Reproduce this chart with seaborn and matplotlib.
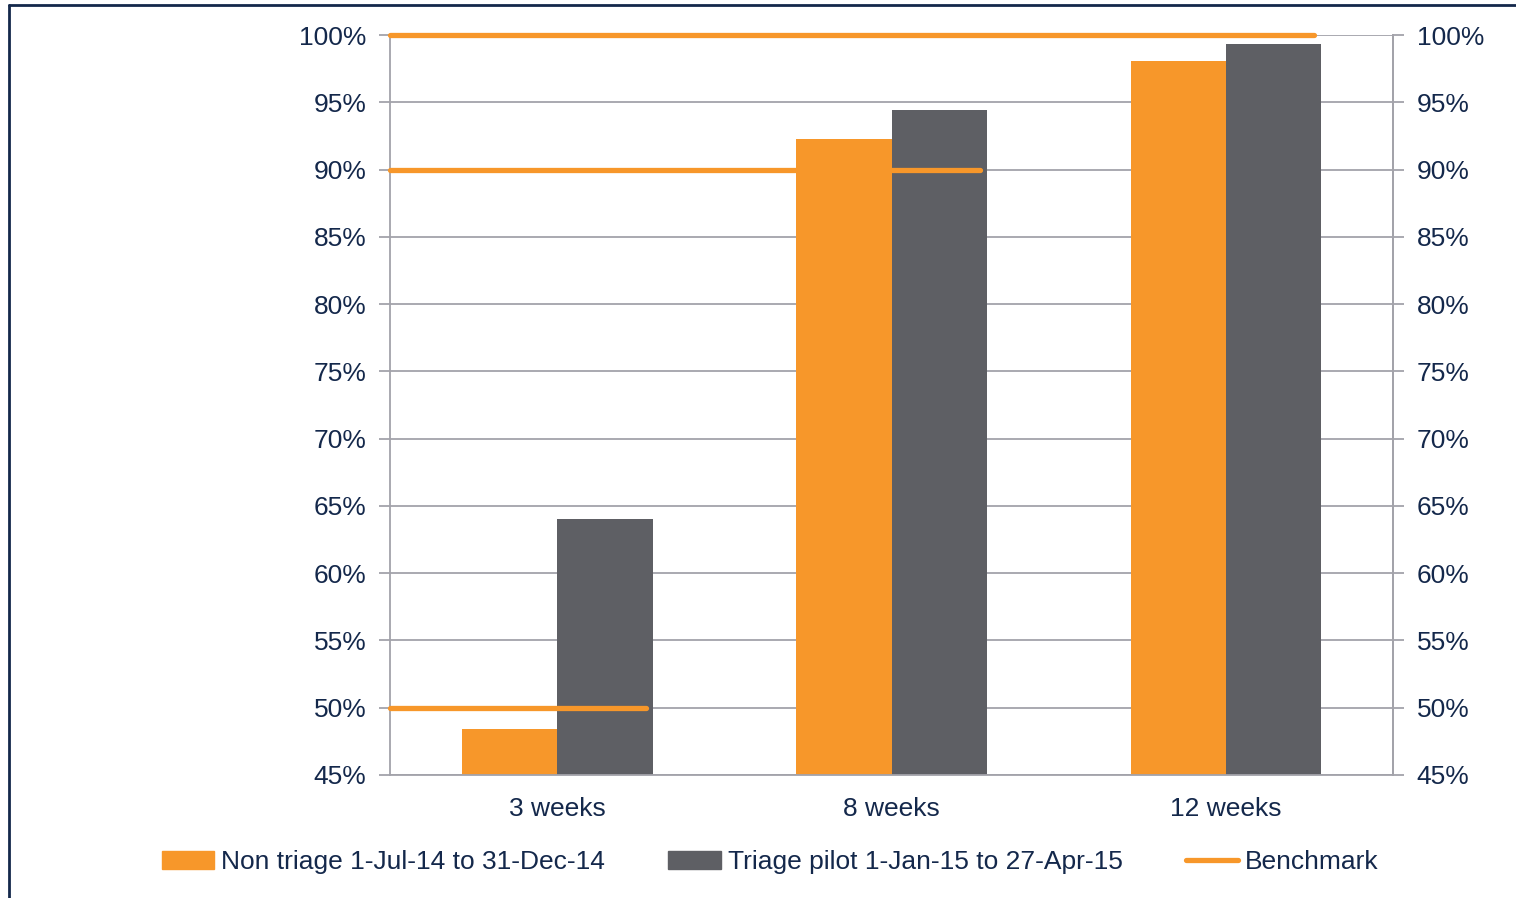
import pandas as pd
import numpy as np
import matplotlib.pyplot as plt
import seaborn as sns
from matplotlib.lines import Line2D
from matplotlib.patches import Patch
from matplotlib.ticker import PercentFormatter

# Data
categories = ['3 weeks', '8 weeks', '12 weeks']
non_triage = [48.4, 92.3, 98.1]
triage_pilot = [64.0, 94.4, 99.3]
benchmark = [50, 90, 100]

series_names = ['Non triage 1-Jul-14 to 31-Dec-14',
                'Triage pilot 1-Jan-15 to 27-Apr-15']

orange = '#f7972a'
grey = '#5e5f64'
navy = '#14284b'
gridc = '#a3a3aa'
fs = 19

df = pd.DataFrame({
    'Period': categories * 2,
    'Series': [series_names[0]] * 3 + [series_names[1]] * 3,
    'Rate': non_triage + triage_pilot,
})

sns.set_style('white')
plt.rcParams['font.family'] = ['Liberation Sans', 'DejaVu Sans']

fig = plt.figure(figsize=(15.16, 8.98), dpi=100)
ax = fig.add_axes([0.2573, 0.137, 0.6616, 0.824])

sns.barplot(data=df, x='Period', y='Rate', hue='Series',
            palette=[orange, grey], width=0.57, saturation=1,
            linewidth=0, ax=ax, legend=False, zorder=2)

# Benchmark segments start at the left edge and stop just past each group
for i, b in enumerate(benchmark):
    ax.hlines(b, -0.5, i + 0.265, color=orange, linewidth=3.8,
              capstyle='round', zorder=3, clip_on=False)

ax.set_xlim(-0.5, 2.5)
ax.set_ylim(45, 100)
ax.set_yticks(np.arange(45, 101, 5))
ax.yaxis.set_major_formatter(PercentFormatter(decimals=0))
ax.set_xlabel('')
ax.set_ylabel('')
ax.grid(axis='y', color=gridc, linewidth=1.3, zorder=0)
ax.set_axisbelow(True)

# category boundaries get the x tick marks
ax.set_xticks([-0.5, 0.5, 1.5, 2.5], minor=False)
ax.set_xticklabels([])
ax.set_xticks(range(len(categories)), minor=True)
ax.set_xticklabels(categories, minor=True)
ax.tick_params(axis='x', which='major', length=8, width=1.3, color=gridc, direction='out')
ax.tick_params(axis='x', which='minor', length=0, pad=16, labelsize=fs, labelcolor=navy)
ax.tick_params(axis='y', length=8, width=1.3, color=gridc, labelsize=fs,
               labelcolor=navy, pad=9, left=True)

for side in ['left', 'bottom', 'right']:
    ax.spines[side].set_color(gridc)
    ax.spines[side].set_linewidth(1.3)
ax.spines['top'].set_visible(False)

ax2 = ax.twinx()
ax2.set_ylim(45, 100)
ax2.set_yticks(np.arange(45, 101, 5))
ax2.yaxis.set_major_formatter(PercentFormatter(decimals=0))
ax2.tick_params(axis='y', length=8, width=1.3, color=gridc, labelsize=fs,
                labelcolor=navy, pad=9)
for side in ['left', 'bottom', 'top']:
    ax2.spines[side].set_visible(False)
ax2.spines['right'].set_color(gridc)
ax2.spines['right'].set_linewidth(1.3)

handles = [Patch(color=orange), Patch(color=grey),
           Line2D([0], [0], color=orange, linewidth=3.8, solid_capstyle='round')]
fig.legend(handles, series_names + ['Benchmark'], loc='center',
           bbox_to_anchor=(0.508, 0.040), ncol=3, frameon=False,
           fontsize=fs, labelcolor=navy, handlelength=2.0,
           handletextpad=0.25, columnspacing=2.4)

# outer frame lines (top and left) of the original
fig.add_artist(Line2D([9 / 1516, 1], [1 - 5 / 898, 1 - 5 / 898], color=navy, linewidth=2))
fig.add_artist(Line2D([9 / 1516, 9 / 1516], [0, 1 - 5 / 898], color=navy, linewidth=2))

fig.savefig('out.png', dpi=100)
